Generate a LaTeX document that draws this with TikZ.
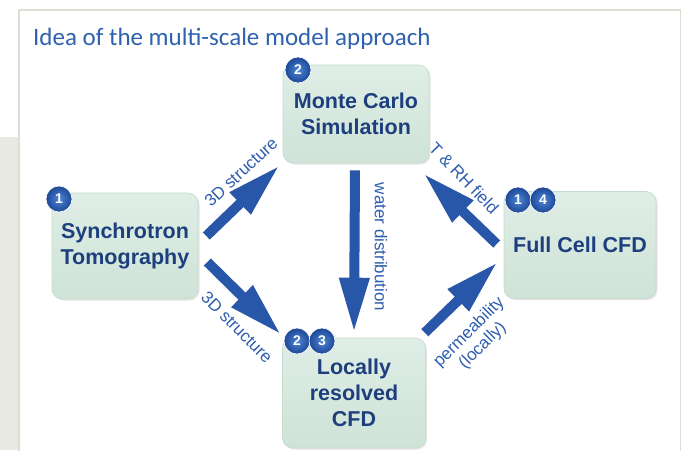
\documentclass[tikz,border=0pt]{standalone}
\usepackage{fontspec}
\setmainfont{Liberation Sans}
\newfontfamily\titlefont{Carlito}
\usetikzlibrary{arrows.meta,shadows}
\definecolor{titleblue}{HTML}{2F62AE}
\definecolor{framegray}{HTML}{DEDED7}
\definecolor{leftgray}{HTML}{E9E9E4}
\definecolor{boxtop}{HTML}{DFEEE6}
\definecolor{boxbot}{HTML}{CFE3D8}
\definecolor{boxedge}{HTML}{C6DCCF}
\definecolor{boxtext}{HTML}{1E3F7E}
\definecolor{badgein}{HTML}{4F86D6}
\definecolor{badgeout}{HTML}{1C4796}
\definecolor{arrowblue}{HTML}{2856A8}
\definecolor{labelblue}{HTML}{2F5EAE}
\tikzset{
  box/.style={rounded corners=10pt, top color=boxtop, bottom color=boxbot,
    draw=boxedge, line width=0.6pt, text=boxtext, align=center, inner sep=0pt,
    font=\bfseries\fontsize{21.5}{26}\selectfont,
    drop shadow={shadow xshift=1.5pt, shadow yshift=-1.5pt, fill=black, opacity=0.10}},
  badge/.style={circle, minimum size=26pt, inner sep=0pt, inner color=badgein, outer color=badgeout,
    draw=white, line width=0.6pt,
    text=white, font=\bfseries\fontsize{14}{14}\selectfont},
  arr/.style={line width=10pt, draw=arrowblue,
    -{Triangle[length=55pt,width=28pt]}},
  lbl/.style={text=labelblue, font=\fontsize{17}{19}\selectfont, inner sep=0pt, align=center}
}
\begin{document}
\begin{tikzpicture}[x=1pt,y=1pt]
\useasboundingbox (0,0) rectangle (683,-450);
\fill[white] (0,0) rectangle (683,-450);
\fill[leftgray] (0,-137) rectangle (18,-450);
\draw[framegray, line width=1.5pt, fill=white] (18.75,-451) -- (18.75,-9.75) -- (680.25,-9.75) -- (680.25,-451);
\node[text=titleblue, font=\titlefont\fontsize{25}{28}\selectfont, anchor=base west, inner sep=0pt] (title) at (33,-45) {Idea of the multi-scale model approach};

% boxes
\node[box, minimum width=146pt, minimum height=106pt] (S) at (125,-246) {Synchrotron\\Tomography};
\node[box, minimum width=146pt, minimum height=98pt] (M) at (356,-114) {Monte Carlo\\Simulation};
\node[box, minimum width=143pt, minimum height=110pt] (L) at (354,-393) {Locally\\resolved\\CFD};
\node[box, minimum width=152pt, minimum height=107pt] (F) at (580,-245) {Full Cell CFD};

% badges
\node[badge] (bS1) at (59,-199) {1};
\node[badge] (bM2) at (298,-70) {2};
\node[badge] (bL2) at (297,-341) {2};
\node[badge] (bL3) at (322,-341) {3};
\node[badge] (bF1) at (518,-200) {1};
\node[badge] (bF4) at (543,-200) {4};

% arrow ends
\coordinate (a1t) at ([shift={(8,10)}]S.east);
\coordinate (a1h) at ([shift={(-3,-2)}]M.south west);
\coordinate (a2t) at ([shift={(9,-16)}]S.east);
\coordinate (a2h) at ([shift={(-1,3)}]L.north west);
\coordinate (a3t) at ([shift={(-1,-7)}]M.south);
\coordinate (a3h) at ([shift={(0,5)}]L.north);
\coordinate (a4t) at ([shift={(-7,1)}]F.west);
\coordinate (a4h) at ([shift={(-6,-10)}]M.south east);
\coordinate (a5t) at ([shift={(-1,5)}]L.north east);
\coordinate (a5h) at ([shift={(-6,-17)}]F.west);

\draw[arr] (a1t) -- (a1h);
\draw[arr] (a2t) -- (a2h);
\draw[arr] (a3t) -- (a3h);
\draw[arr] (a4t) -- (a4h);
\draw[arr] (a5t) -- (a5h);

% labels
\node[lbl, rotate=43] (l1) at (241,-172) {3D structure};
\node[lbl, rotate=-45] (l2) at (237,-327) {3D structure};
\node[lbl, rotate=-90] (l3) at (381,-247) {water distribution};
\node[lbl, rotate=-46] (l4) at (464,-178) {T \& RH field};
\node[lbl, rotate=45] (l5) at (476,-339) {permeability\\(locally)};
\end{tikzpicture}
\end{document}
